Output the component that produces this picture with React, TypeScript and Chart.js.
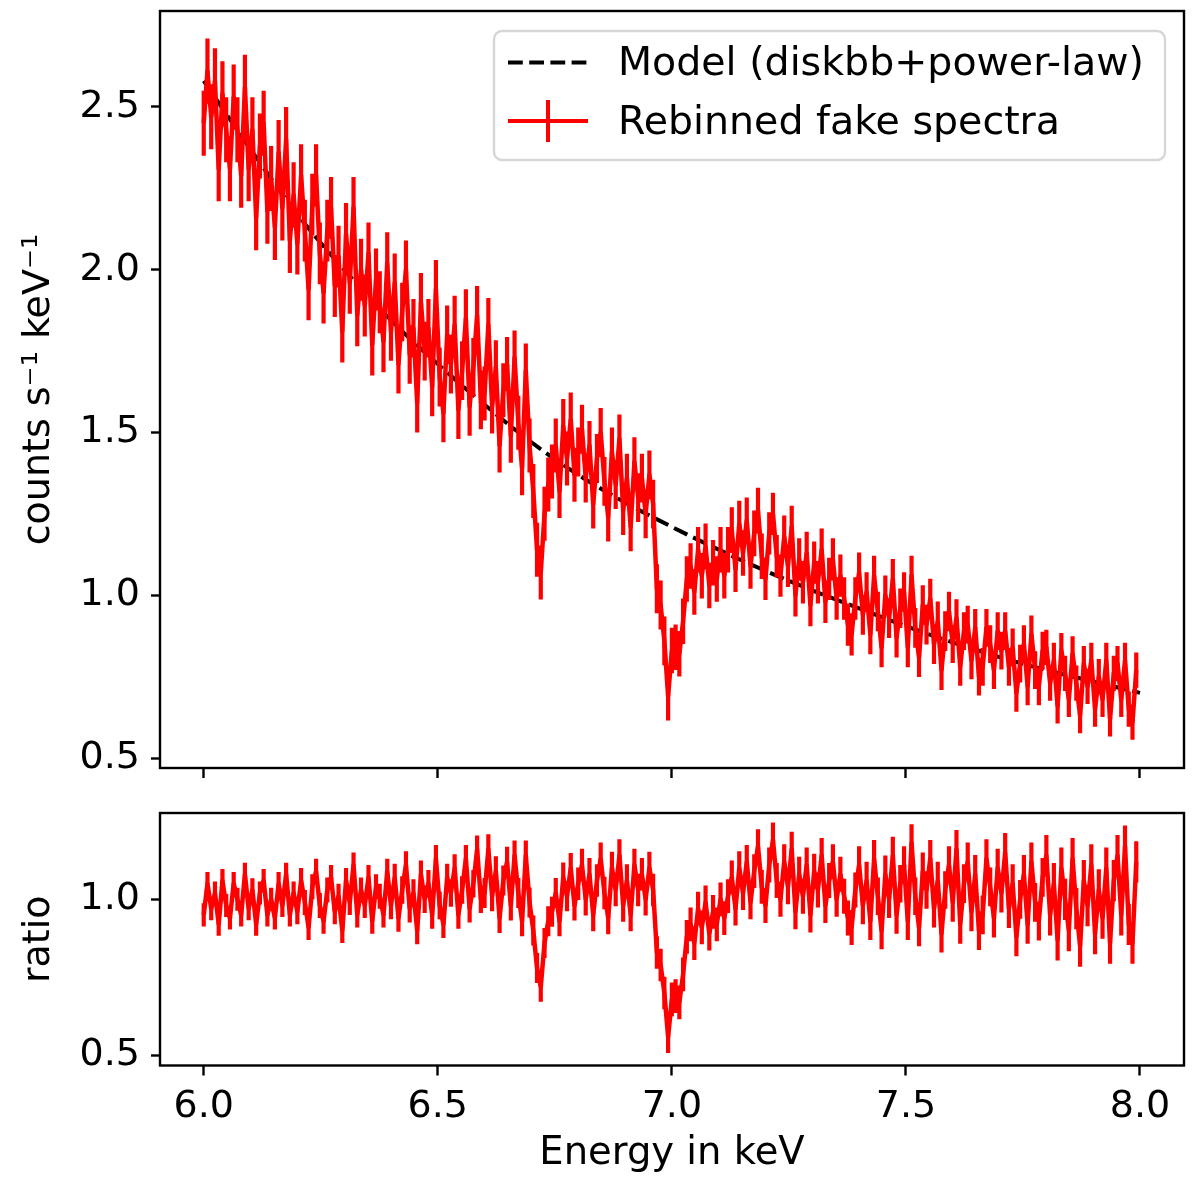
import React, { useEffect, useRef } from "react";
import { Chart, registerables } from "chart.js";

Chart.register(...registerables);

// ---------------- DATA ----------------
// bin centres (keV)
const energies = [
  6.000, 6.008, 6.016, 6.024, 6.032, 6.040, 6.048, 6.056, 6.064, 6.072, 6.080, 6.088, 6.096, 6.104, 6.112, 6.120, 6.128, 6.136, 6.144, 6.152, 6.160, 6.168, 6.176, 6.184, 6.192,
  6.200, 6.208, 6.216, 6.224, 6.232, 6.240, 6.248, 6.256, 6.264, 6.272, 6.280, 6.288, 6.296, 6.304, 6.312, 6.320, 6.328, 6.336, 6.344, 6.352, 6.360, 6.368, 6.376, 6.384, 6.392,
  6.400, 6.408, 6.416, 6.424, 6.432, 6.440, 6.448, 6.456, 6.464, 6.472, 6.480, 6.488, 6.496, 6.504, 6.512, 6.520, 6.528, 6.536, 6.544, 6.552, 6.560, 6.568, 6.576, 6.584, 6.592,
  6.600, 6.608, 6.616, 6.624, 6.632, 6.640, 6.648, 6.656, 6.664, 6.672, 6.680, 6.688, 6.696, 6.704, 6.712, 6.720, 6.728, 6.736, 6.744, 6.752, 6.760, 6.768, 6.776, 6.784, 6.792,
  6.800, 6.808, 6.816, 6.824, 6.832, 6.840, 6.848, 6.856, 6.864, 6.872, 6.880, 6.888, 6.896, 6.904, 6.912, 6.920, 6.928, 6.936, 6.944, 6.952, 6.960, 6.968, 6.976, 6.984, 6.992,
  7.000, 7.008, 7.016, 7.024, 7.032, 7.040, 7.048, 7.056, 7.064, 7.072, 7.080, 7.088, 7.096, 7.104, 7.112, 7.120, 7.128, 7.136, 7.144, 7.152, 7.160, 7.168, 7.176, 7.184, 7.192,
  7.200, 7.208, 7.216, 7.224, 7.232, 7.240, 7.248, 7.256, 7.264, 7.272, 7.280, 7.288, 7.296, 7.304, 7.312, 7.320, 7.328, 7.336, 7.344, 7.352, 7.360, 7.368, 7.376, 7.384, 7.392,
  7.400, 7.408, 7.416, 7.424, 7.432, 7.440, 7.448, 7.456, 7.464, 7.472, 7.480, 7.488, 7.496, 7.504, 7.512, 7.520, 7.528, 7.536, 7.544, 7.552, 7.560, 7.568, 7.576, 7.584, 7.592,
  7.600, 7.608, 7.616, 7.624, 7.632, 7.640, 7.648, 7.656, 7.664, 7.672, 7.680, 7.688, 7.696, 7.704, 7.712, 7.720, 7.728, 7.736, 7.744, 7.752, 7.760, 7.768, 7.776, 7.784, 7.792,
  7.800, 7.808, 7.816, 7.824, 7.832, 7.840, 7.848, 7.856, 7.864, 7.872, 7.880, 7.888, 7.896, 7.904, 7.912, 7.920, 7.928, 7.936, 7.944, 7.952, 7.960, 7.968, 7.976, 7.984, 7.992,
];

// rebinned fake spectrum (counts s^-1 keV^-1)
const spectrum = [
  2.45, 2.61, 2.47, 2.58, 2.31, 2.54, 2.43, 2.31, 2.53, 2.43, 2.29, 2.56, 2.31, 2.43, 2.16, 2.38, 2.45, 2.18, 2.28, 2.13, 2.36, 2.19, 2.40, 2.09, 2.23,
  2.08, 2.29, 2.12, 1.94, 2.20, 2.29, 2.05, 1.93, 2.12, 2.19, 1.95, 2.04, 1.81, 2.11, 1.96, 2.19, 1.86, 2.00, 1.89, 2.05, 1.77, 1.97, 1.90, 1.78, 2.02,
  1.81, 1.96, 1.71, 1.87, 2.00, 1.74, 1.82, 1.59, 1.90, 1.75, 1.82, 1.64, 1.94, 1.67, 1.56, 1.80, 1.71, 1.83, 1.57, 1.69, 1.85, 1.58, 1.70, 1.86, 1.60,
  1.62, 1.83, 1.58, 1.70, 1.46, 1.63, 1.71, 1.49, 1.73, 1.53, 1.39, 1.69, 1.46, 1.32, 1.14, 1.07, 1.25, 1.34, 1.38, 1.46, 1.32, 1.52, 1.42, 1.54, 1.37,
  1.44, 1.51, 1.36, 1.46, 1.28, 1.42, 1.50, 1.35, 1.24, 1.44, 1.34, 1.48, 1.26, 1.36, 1.21, 1.41, 1.30, 1.36, 1.25, 1.37, 1.28, 1.02, 0.97, 0.86, 0.69,
  0.83, 0.84, 0.82, 0.92, 1.05, 1.09, 1.01, 1.14, 1.06, 1.15, 1.03, 1.10, 1.05, 1.14, 1.06, 1.14, 1.20, 1.08, 1.22, 1.13, 1.23, 1.09, 1.19, 1.26, 1.12,
  1.05, 1.19, 1.25, 1.12, 1.06, 1.18, 1.09, 1.21, 1.00, 1.11, 1.04, 1.13, 0.97, 1.10, 1.04, 1.14, 0.98, 1.05, 1.11, 0.99, 1.06, 0.99, 0.91, 0.88, 0.99,
  1.07, 0.94, 1.01, 0.88, 1.06, 0.95, 0.84, 1.00, 0.93, 1.05, 0.87, 0.96, 1.01, 0.84, 1.06, 0.90, 0.81, 0.97, 0.91, 0.99, 0.85, 0.92, 0.77, 0.89, 0.95,
  0.85, 0.93, 0.78, 0.89, 0.91, 0.80, 0.90, 0.75, 0.78, 0.90, 0.85, 0.77, 0.89, 0.83, 0.89, 0.78, 0.84, 0.70, 0.79, 0.85, 0.72, 0.88, 0.77, 0.72, 0.83,
  0.84, 0.73, 0.80, 0.66, 0.83, 0.76, 0.68, 0.82, 0.73, 0.63, 0.79, 0.72, 0.80, 0.65, 0.75, 0.68, 0.80, 0.62, 0.76, 0.79, 0.68, 0.80, 0.65, 0.61, 0.77,
];

// data / model ratio
const ratio = [
  0.95, 1.05, 0.97, 1.02, 0.92, 1.06, 0.98, 0.94, 1.05, 1.00, 0.95, 1.08, 0.97, 1.03, 0.92, 1.02, 1.06, 0.95, 1.00, 0.94, 1.05, 0.98, 1.08, 0.95, 1.02,
  0.96, 1.06, 0.99, 0.91, 1.04, 1.09, 0.98, 0.93, 1.03, 1.07, 0.96, 1.01, 0.90, 1.06, 0.99, 1.11, 0.95, 1.03, 0.98, 1.07, 0.93, 1.04, 1.01, 0.95, 1.09,
  0.98, 1.07, 0.94, 1.03, 1.11, 0.97, 1.02, 0.90, 1.08, 1.00, 1.05, 0.95, 1.13, 0.98, 0.92, 1.07, 1.02, 1.10, 0.95, 1.03, 1.13, 0.97, 1.05, 1.16, 1.00,
  1.02, 1.16, 1.01, 1.09, 0.94, 1.06, 1.12, 0.98, 1.14, 1.02, 0.93, 1.14, 0.99, 0.90, 0.78, 0.72, 0.86, 0.93, 0.96, 1.02, 0.93, 1.07, 1.01, 1.10, 0.98,
  1.05, 1.11, 1.00, 1.08, 0.95, 1.06, 1.13, 1.02, 0.94, 1.10, 1.03, 1.14, 0.98, 1.06, 0.95, 1.11, 1.03, 1.08, 1.00, 1.10, 1.03, 0.83, 0.79, 0.70, 0.56,
  0.68, 0.69, 0.67, 0.76, 0.88, 0.92, 0.86, 0.97, 0.91, 0.99, 0.89, 0.96, 0.92, 1.00, 0.94, 1.01, 1.07, 0.97, 1.10, 1.02, 1.12, 0.99, 1.09, 1.17, 1.04,
  0.98, 1.11, 1.19, 1.06, 1.00, 1.12, 1.04, 1.16, 0.96, 1.08, 1.01, 1.11, 0.95, 1.09, 1.03, 1.14, 0.98, 1.06, 1.12, 1.00, 1.08, 1.01, 0.94, 0.91, 1.03,
  1.11, 0.98, 1.06, 0.93, 1.13, 1.01, 0.90, 1.08, 1.00, 1.14, 0.95, 1.05, 1.11, 0.93, 1.18, 1.01, 0.91, 1.09, 1.03, 1.13, 0.97, 1.06, 0.89, 1.03, 1.11,
  0.99, 1.16, 0.92, 1.05, 1.12, 0.96, 1.08, 0.90, 0.95, 1.13, 1.04, 0.94, 1.10, 1.02, 1.15, 0.97, 1.05, 0.88, 1.00, 1.08, 0.92, 1.12, 0.99, 0.93, 1.07,
  1.14, 0.95, 1.05, 0.87, 1.10, 1.00, 0.90, 1.13, 0.97, 0.85, 1.06, 0.98, 1.11, 0.89, 1.03, 0.94, 1.10, 0.86, 1.06, 1.14, 0.95, 1.17, 0.92, 0.86, 1.12,
];

// error-bar half sizes, one per 0.2 keV block of 25 bins
const spectrumErrByBlock = [0.1, 0.095, 0.09, 0.083, 0.075, 0.07, 0.065, 0.061, 0.058, 0.054];
const ratioErrByBlock = [0.037, 0.04, 0.044, 0.048, 0.052, 0.054, 0.056, 0.06, 0.062, 0.066];
const BINS_PER_BLOCK = 25;

// model (diskbb + power-law)
const modelEnergies = [6.0, 6.1, 6.2, 6.3, 6.4, 6.5, 6.6, 6.7, 6.8, 6.9, 7.0, 7.1, 7.2, 7.3, 7.4, 7.5, 7.6, 7.7, 7.8, 7.9, 8.0];
const modelCounts = [2.58, 2.37, 2.17, 2.0, 1.845, 1.71, 1.585, 1.47, 1.37, 1.285, 1.21, 1.14, 1.075, 1.015, 0.96, 0.905, 0.855, 0.81, 0.77, 0.735, 0.70];

// ticks
const xTickValues = [6.0, 6.5, 7.0, 7.5, 8.0];
const yTickValuesTop = [0.5, 1.0, 1.5, 2.0, 2.5];
const yTickValuesBottom = [0.5, 1.0];

const MODEL_LABEL = "Model (diskbb+power-law)";
const SPECTRUM_LABEL = "Rebinned fake spectra";
const Y_TITLE_TOP = "counts s\u207B\u00B9 keV\u207B\u00B9";
const Y_TITLE_BOTTOM = "ratio";
const X_TITLE = "Energy in keV";

// ---------------- STYLE ----------------
const RED = "#ff0000";
const FONT = "DejaVu Sans";
const FS = 38;
const LEGEND_FS = 39.5;
const X_MIN = 5.9066;
const X_MAX = 8.094;
const DATA_LW = 4.5;
const ERR_LW = 4.2;

const framePlugin = {
  id: "frame",
  afterDraw(chart: any) {
    const { ctx, chartArea: a } = chart;
    ctx.save();
    ctx.strokeStyle = "#000";
    ctx.lineWidth = 2.4;
    ctx.strokeRect(a.left, a.top, a.right - a.left, a.bottom - a.top);
    ctx.restore();
  },
};

function makeErrorBarPlugin(values: number[], errs: number[]) {
  return {
    id: "errbars",
    afterDatasetsDraw(chart: any) {
      const { ctx, chartArea: a, scales } = chart;
      const xs = scales.x;
      const ys = scales.y;
      ctx.save();
      ctx.beginPath();
      ctx.rect(a.left, a.top, a.right - a.left, a.bottom - a.top);
      ctx.clip();
      ctx.strokeStyle = RED;
      ctx.lineWidth = ERR_LW;
      ctx.lineCap = "butt";
      ctx.beginPath();
      energies.forEach((e, i) => {
        const err = errs[Math.floor(i / BINS_PER_BLOCK)];
        const px = xs.getPixelForValue(e);
        ctx.moveTo(px, ys.getPixelForValue(values[i] + err));
        ctx.lineTo(px, ys.getPixelForValue(values[i] - err));
      });
      ctx.stroke();
      ctx.restore();
    },
  };
}

const legendPlugin = {
  id: "boxLegend",
  afterDraw(chart: any) {
    const ctx = chart.ctx;
    const ds = chart.data.datasets;
    const model = ds.find((d: any) => d.id === "model");
    const spec = ds.find((d: any) => d.id === "spec");
    ctx.save();
    ctx.beginPath();
    (ctx as any).roundRect(494, 31, 671, 129, 8);
    ctx.fillStyle = "rgba(255,255,255,0.8)";
    ctx.fill();
    ctx.strokeStyle = "#d6d6d6";
    ctx.lineWidth = 2.4;
    ctx.stroke();

    ctx.strokeStyle = "#000";
    ctx.lineWidth = 4;
    ctx.setLineDash([14.8, 6.4]);
    ctx.beginPath();
    ctx.moveTo(508, 62.5);
    ctx.lineTo(588, 62.5);
    ctx.stroke();
    ctx.setLineDash([]);

    ctx.strokeStyle = RED;
    ctx.lineWidth = 4;
    ctx.beginPath();
    ctx.moveTo(508, 121);
    ctx.lineTo(588, 121);
    ctx.moveTo(548, 100);
    ctx.lineTo(548, 142);
    ctx.stroke();

    ctx.fillStyle = "#000";
    ctx.font = `${LEGEND_FS}px "${FONT}"`;
    ctx.textAlign = "left";
    ctx.textBaseline = "middle";
    ctx.fillText(model.label, 618, 65);
    ctx.fillText(spec.label, 618, 123.5);
    ctx.restore();
  },
};

function xScale(showLabels: boolean, height: number) {
  return {
    type: "linear",
    min: X_MIN,
    max: X_MAX,
    afterBuildTicks: (s: any) => {
      s.ticks = xTickValues.map((v) => ({ value: v }));
    },
    afterFit: (s: any) => {
      s.height = height;
      s.paddingLeft = 0;
      s.paddingRight = 0;
      s.paddingTop = 0;
      s.paddingBottom = 0;
    },
    grid: { display: true, drawOnChartArea: false, drawTicks: true, tickLength: 10, tickWidth: 2.4, tickColor: "#000" },
    border: { display: false },
    ticks: {
      display: showLabels,
      color: "#000",
      font: { family: FONT, size: FS },
      padding: 9,
      maxRotation: 0,
      autoSkip: false,
      callback: (v: any) => Number(v).toFixed(1),
    },
    title: showLabels
      ? { display: true, text: X_TITLE, color: "#000", font: { family: FONT, size: 38.5 }, padding: { top: 0, bottom: 9 } }
      : { display: false },
  };
}

function yScale(min: number, max: number, tickVals: number[], title: string) {
  return {
    type: "linear",
    min,
    max,
    afterBuildTicks: (s: any) => {
      s.ticks = tickVals.map((v) => ({ value: v }));
    },
    afterFit: (s: any) => {
      s.width = 160;
      s.paddingTop = 0;
      s.paddingBottom = 0;
      s.paddingLeft = 0;
      s.paddingRight = 0;
    },
    grid: { display: true, drawOnChartArea: false, drawTicks: true, tickLength: 9, tickWidth: 2.4, tickColor: "#000" },
    border: { display: false },
    ticks: {
      color: "#000",
      font: { family: FONT, size: FS },
      padding: 11,
      autoSkip: false,
      callback: (v: any) => Number(v).toFixed(1),
    },
    title: { display: true, text: title, color: "#000", font: { family: FONT, size: FS }, padding: { top: 16, bottom: 0 } },
  };
}

export default function App() {
  const topRef = useRef<HTMLCanvasElement>(null);
  const botRef = useRef<HTMLCanvasElement>(null);

  useEffect(() => {
    const specPoints = energies.map((e, i) => ({ x: e, y: spectrum[i] }));
    const ratioPoints = energies.map((e, i) => ({ x: e, y: ratio[i] }));
    const modelPoints = modelEnergies.map((e, i) => ({ x: e, y: modelCounts[i] }));

    const top = new Chart(topRef.current as HTMLCanvasElement, {
      type: "line",
      data: {
        datasets: [
          {
            id: "spec",
            label: SPECTRUM_LABEL,
            data: specPoints,
            borderColor: RED,
            borderWidth: DATA_LW,
            borderJoinStyle: "round",
            pointRadius: 0,
            tension: 0,
            order: 0,
          } as any,
          {
            id: "model",
            label: MODEL_LABEL,
            data: modelPoints,
            borderColor: "#000",
            borderWidth: 4,
            borderDash: [14.8, 6.4],
            pointRadius: 0,
            cubicInterpolationMode: "monotone",
            order: 1,
          } as any,
        ],
      },
      options: {
        animation: false,
        responsive: false,
        devicePixelRatio: 1,
        events: [],
        layout: { padding: { left: 0, right: 16, top: 11, bottom: 0 } },
        plugins: { legend: { display: false }, tooltip: { enabled: false } },
        scales: {
          x: xScale(false, 22) as any,
          y: yScale(0.4693, 2.7947, yTickValuesTop, Y_TITLE_TOP) as any,
        },
      },
      plugins: [makeErrorBarPlugin(spectrum, spectrumErrByBlock), framePlugin, legendPlugin],
    });

    const bot = new Chart(botRef.current as HTMLCanvasElement, {
      type: "line",
      data: {
        datasets: [
          {
            label: "ratio",
            data: ratioPoints,
            borderColor: RED,
            borderWidth: DATA_LW,
            borderJoinStyle: "round",
            pointRadius: 0,
            tension: 0,
          } as any,
        ],
      },
      options: {
        animation: false,
        responsive: false,
        devicePixelRatio: 1,
        events: [],
        layout: { padding: { left: 0, right: 16, top: 23, bottom: 0 } },
        plugins: { legend: { display: false }, tooltip: { enabled: false } },
        scales: {
          x: xScale(true, 120.5) as any,
          y: yScale(0.468, 1.276, yTickValuesBottom, Y_TITLE_BOTTOM) as any,
        },
      },
      plugins: [makeErrorBarPlugin(ratio, ratioErrByBlock), framePlugin],
    });

    return () => {
      top.destroy();
      bot.destroy();
    };
  }, []);

  return (
    <div style={{ position: "absolute", left: 0, top: 0, width: 1200, height: 1186, background: "#fff" }}>
      <canvas
        ref={topRef}
        width={1200}
        height={790}
        style={{ position: "absolute", left: 0, top: 0, width: 1200, height: 790 }}
      />
      <canvas
        ref={botRef}
        width={1200}
        height={396}
        style={{ position: "absolute", left: 0, top: 790, width: 1200, height: 396 }}
      />
    </div>
  );
}
